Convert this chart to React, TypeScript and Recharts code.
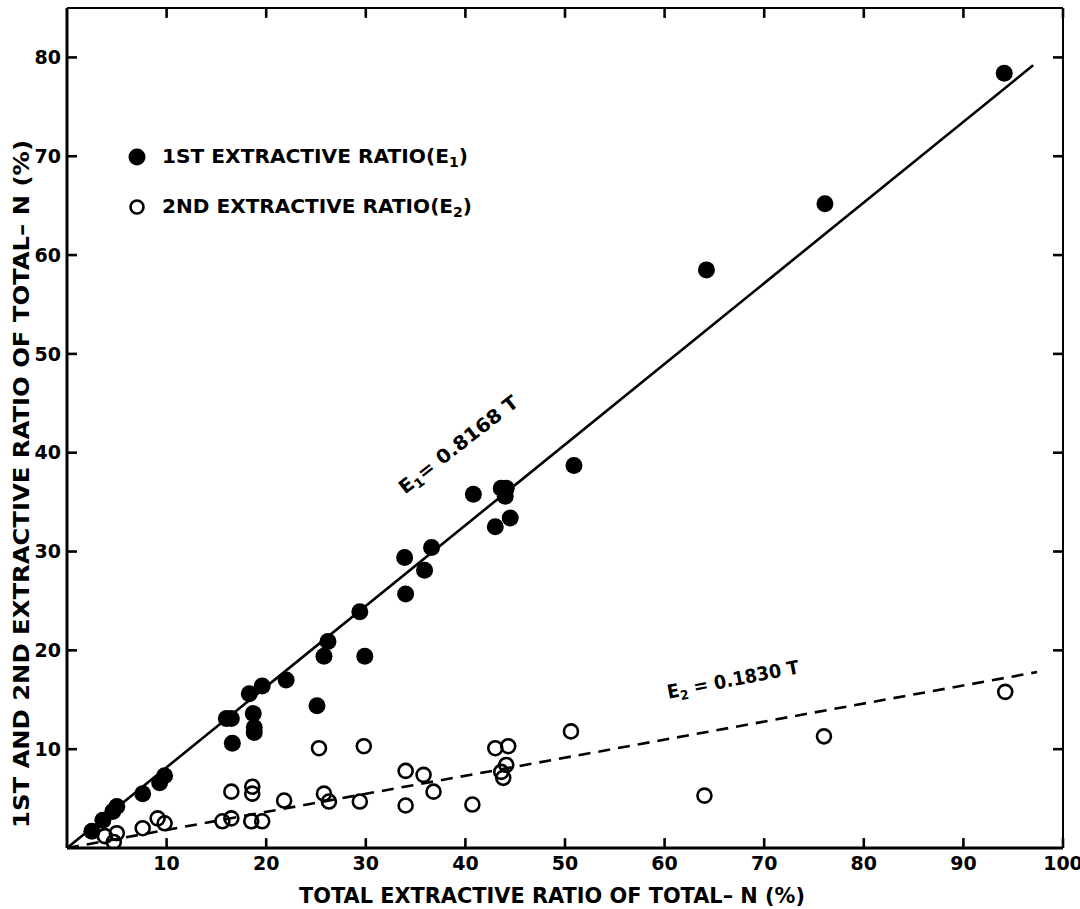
import React from 'react';
import { ScatterChart, Scatter, XAxis, YAxis, ReferenceLine, ReferenceDot, Customized, Label } from 'recharts';

// 1st extractive ratio (E1) — filled circles
const e1X = [2.5, 3.6, 4.6, 5.0, 7.6, 9.3, 9.8, 16.0, 16.5, 16.6, 18.3, 18.7, 18.8, 18.8, 19.6, 22.0, 25.1, 25.8, 26.2, 29.4, 29.9, 33.9, 34.0, 35.9, 36.6, 40.8, 43.0, 43.6, 44.0, 44.1, 44.5, 50.9, 64.2, 76.1, 94.1];
const e1Y = [1.7, 2.8, 3.7, 4.2, 5.5, 6.6, 7.3, 13.1, 13.1, 10.6, 15.6, 13.6, 12.2, 11.7, 16.4, 17.0, 14.4, 19.4, 20.9, 23.9, 19.4, 29.4, 25.7, 28.1, 30.4, 35.8, 32.5, 36.4, 35.6, 36.4, 33.4, 38.7, 58.5, 65.2, 78.4];

// 2nd extractive ratio (E2) — open circles
const e2X = [3.8, 4.7, 5.0, 7.6, 9.1, 9.8, 15.6, 16.5, 16.5, 18.5, 18.6, 18.6, 19.6, 21.8, 25.3, 25.8, 26.3, 29.4, 29.8, 34.0, 34.0, 35.8, 36.8, 40.7, 43.0, 43.6, 43.8, 44.1, 44.3, 50.6, 64.0, 76.0, 94.2];
const e2Y = [1.2, 0.6, 1.5, 2.0, 3.0, 2.5, 2.7, 3.0, 5.7, 2.7, 6.2, 5.5, 2.7, 4.8, 10.1, 5.5, 4.7, 4.7, 10.3, 7.8, 4.3, 7.4, 5.7, 4.4, 10.1, 7.7, 7.1, 8.4, 10.3, 11.8, 5.3, 11.3, 15.8];

// fitted lines E1 = 0.8168 T, E2 = 0.1830 T (end points)
const fitE1X = [0, 97.0];
const fitE1Y = [0, 79.2];
const fitE2X = [0, 97.4];
const fitE2Y = [0, 17.8];

const xTicks = [10, 20, 30, 40, 50, 60, 70, 80, 90, 100];
const yTicks = [10, 20, 30, 40, 50, 60, 70, 80];
const xDomain = [0, 100];
const yDomain = [0, 85];
// inward tick-mark length, in axis units (~10 px)
const xTickLen = 1.0;
const yTickLen = 1.0;

const e1Data = e1X.map((x, i) => ({ x, y: e1Y[i] }));
const e2Data = e2X.map((x, i) => ({ x, y: e2Y[i] }));

const FONT = 'DejaVu Sans';
const tickStyle = { fontSize: 19, fontWeight: 'bold', fontFamily: FONT, fill: '#000' };

const FilledDot = (p: any) => <circle cx={p.cx} cy={p.cy} r={8.5} fill="#000" />;
const OpenDot = (p: any) => <circle cx={p.cx} cy={p.cy} r={7} fill="none" stroke="#000" strokeWidth={2.6} />;
const NoDot = () => <g />;

const LegendBox = () => (
  <g fontFamily={FONT} fontWeight="bold" fill="#000">
    <circle cx={137} cy={157} r={8.5} fill="#000" />
    <text x={162} y={163} fontSize={20} textLength={306} lengthAdjust="spacingAndGlyphs">
      1ST EXTRACTIVE RATIO(E<tspan fontSize={14} dy={4}>1</tspan><tspan dy={-4}>)</tspan>
    </text>
    <circle cx={137} cy={207} r={6.5} fill="none" stroke="#000" strokeWidth={2.6} />
    <text x={162} y={213} fontSize={20} textLength={310} lengthAdjust="spacingAndGlyphs">
      2ND EXTRACTIVE RATIO(E<tspan fontSize={14} dy={4}>2</tspan><tspan dy={-4}>)</tspan>
    </text>
  </g>
);

const annot = (label: React.ReactNode, sub: string, rest: string, angle: number, len: number) => (p: any) => (
  <text
    x={p.cx}
    y={p.cy}
    textAnchor="middle"
    fontFamily={FONT}
    fontWeight="bold"
    fontSize={19}
    fill="#000"
    textLength={len}
    lengthAdjust="spacingAndGlyphs"
    transform={`rotate(${angle} ${p.cx} ${p.cy})`}
  >
    {label}<tspan fontSize={13} dy={4}>{sub}</tspan><tspan dy={-4}>{rest}</tspan>
  </text>
);

const tickLineProps = { xAxisId: 'b', yAxisId: 'l', stroke: '#000', strokeWidth: 2.6, ifOverflow: 'visible' as const };

export default function App() {
  return (
    <div style={{ position: 'absolute', left: 0, top: 0, width: 1080, height: 909, background: '#fff' }}>
      <ScatterChart width={1080} height={909} margin={{ top: 7, right: 16, bottom: 11, left: 10 }}>
        <XAxis
          xAxisId="b"
          type="number"
          dataKey="x"
          domain={xDomain}
          ticks={xTicks}
          height={50}
          tickSize={0}
          tickMargin={9}
          tick={tickStyle}
          tickLine={false}
          axisLine={{ stroke: '#000', strokeWidth: 3 }}
          allowDataOverflow
        >
          <Label
            content={(props: any) => {
              const vb = props.viewBox;
              return (
                <text
                  x={vb.x + vb.width / 2 - 13}
                  y={903}
                  textAnchor="middle"
                  fontFamily={FONT}
                  fontWeight="bold"
                  fontSize={21}
                  fill="#000"
                  textLength={506}
                  lengthAdjust="spacingAndGlyphs"
                >
                  TOTAL EXTRACTIVE RATIO OF TOTAL– N (%)
                </text>
              );
            }}
          />
        </XAxis>
        <XAxis
          xAxisId="t"
          orientation="top"
          type="number"
          dataKey="x"
          domain={xDomain}
          ticks={xTicks}
          height={1}
          tick={false}
          tickLine={false}
          axisLine={{ stroke: '#000', strokeWidth: 2 }}
          allowDataOverflow
        />
        <YAxis
          yAxisId="l"
          type="number"
          dataKey="y"
          domain={yDomain}
          ticks={yTicks}
          width={57}
          tickSize={0}
          tickMargin={6}
          tick={tickStyle}
          tickLine={false}
          axisLine={{ stroke: '#000', strokeWidth: 3 }}
          allowDataOverflow
        >
          <Label
            content={() => (
              <text
                x={22}
                y={484}
                textAnchor="middle"
                dominantBaseline="central"
                fontFamily={FONT}
                fontWeight="bold"
                fontSize={21}
                fill="#000"
                textLength={688}
                lengthAdjust="spacingAndGlyphs"
                transform="rotate(-90 22 484)"
              >
                1ST AND 2ND EXTRACTIVE RATIO OF TOTAL– N (%)
              </text>
            )}
          />
        </YAxis>
        <YAxis
          yAxisId="r"
          orientation="right"
          type="number"
          dataKey="y"
          domain={yDomain}
          ticks={yTicks}
          width={1}
          tick={false}
          tickLine={false}
          axisLine={{ stroke: '#000', strokeWidth: 2 }}
          allowDataOverflow
        />
        {/* inward tick marks on all four sides */}
        {xTicks.map((t) => (
          <ReferenceLine key={`bt${t}`} {...tickLineProps} segment={[{ x: t, y: yDomain[0] }, { x: t, y: yDomain[0] + yTickLen }]} />
        ))}
        {xTicks.map((t) => (
          <ReferenceLine key={`tt${t}`} {...tickLineProps} segment={[{ x: t, y: yDomain[1] }, { x: t, y: yDomain[1] - yTickLen }]} />
        ))}
        {yTicks.map((t) => (
          <ReferenceLine key={`lt${t}`} {...tickLineProps} segment={[{ x: xDomain[0], y: t }, { x: xDomain[0] + xTickLen, y: t }]} />
        ))}
        {yTicks.map((t) => (
          <ReferenceLine key={`rt${t}`} {...tickLineProps} segment={[{ x: xDomain[1], y: t }, { x: xDomain[1] - xTickLen, y: t }]} />
        ))}
        <ReferenceLine
          xAxisId="b"
          yAxisId="l"
          segment={[{ x: fitE1X[0], y: fitE1Y[0] }, { x: fitE1X[1], y: fitE1Y[1] }]}
          stroke="#000"
          strokeWidth={2.6}
          ifOverflow="visible"
        />
        <ReferenceLine
          xAxisId="b"
          yAxisId="l"
          segment={[{ x: fitE2X[0], y: fitE2Y[0] }, { x: fitE2X[1], y: fitE2Y[1] }]}
          stroke="#000"
          strokeWidth={2.6}
          strokeDasharray="12 8"
          ifOverflow="visible"
        />
        <Scatter xAxisId="t" yAxisId="r" data={e1Data} shape={NoDot} isAnimationActive={false} legendType="none" />
        <Scatter xAxisId="b" yAxisId="l" data={e2Data} shape={OpenDot} isAnimationActive={false} />
        <Scatter xAxisId="b" yAxisId="l" data={e1Data} shape={FilledDot} isAnimationActive={false} />
        <ReferenceDot xAxisId="b" yAxisId="l" x={39.7} y={40.3} r={0} ifOverflow="visible" shape={annot('E', '1', '= 0.8168 T', -38, 146)} />
        <ReferenceDot xAxisId="b" yAxisId="l" x={67.0} y={16.4} r={0} ifOverflow="visible" shape={annot('E', '2', ' = 0.1830 T', -11, 134)} />
        <Customized component={LegendBox} />
      </ScatterChart>
    </div>
  );
}
